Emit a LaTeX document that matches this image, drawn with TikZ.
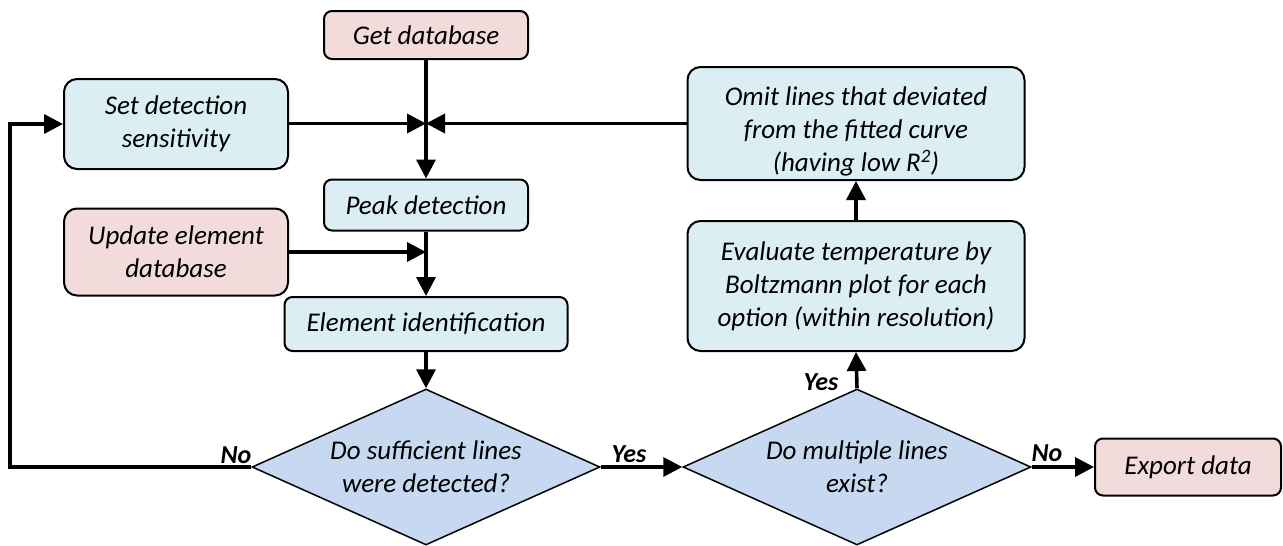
\documentclass[tikz,border=0pt]{standalone}
\usepackage{fontspec}
\setmainfont{Carlito}
\usetikzlibrary{shapes.geometric,arrows.meta}
\definecolor{boxblue}{HTML}{DAEEF3}
\definecolor{boxpink}{HTML}{F2DCDB}
\definecolor{diafill}{HTML}{C6D9F1}
\begin{document}
\begin{tikzpicture}[x=1pt,y=-1pt,
  txt/.style={font=\fontsize{27}{33}\selectfont\itshape},
  bluebox/.style={draw=black,line width=2pt,fill=boxblue,rounded corners=13pt,align=center,inner sep=0pt,txt},
  pinkbox/.style={draw=black,line width=2pt,fill=boxpink,rounded corners=13pt,align=center,inner sep=0pt,txt},
  smallbox/.style={rounded corners=8pt},
  decision/.style={diamond,draw=black,line width=1.5pt,fill=diafill,align=center,inner sep=0pt,minimum width=348pt,minimum height=156pt,aspect=2.23,txt},
  arr/.style={line width=3.6pt,-{Triangle[length=19pt,width=19pt]}},
  lab/.style={font=\fontsize{26}{30}\selectfont\bfseries\itshape}
]
\useasboundingbox (0,0) rectangle (1283,546);

\node[pinkbox,smallbox,minimum width=204pt,minimum height=48pt] (get) at (426,35) {Get database};
\node[bluebox,minimum width=224pt,minimum height=90pt] (set) at (176,124) {Set detection\\sensitivity};
\node[bluebox,smallbox,minimum width=204pt,minimum height=51pt] (peak) at (426,205) {Peak detection};
\node[pinkbox,minimum width=224pt,minimum height=87pt] (upd) at (176,252) {Update element\\database};
\node[bluebox,smallbox,minimum width=283pt,minimum height=54pt] (elem) at (426,324) {Element identification};
\node[decision] (d1) at (426,467) {Do sufficient lines\\were detected?};
\node[decision] (d2) at (857,467) {Do multiple lines\\exist?};
\node[pinkbox,smallbox,minimum width=186pt,minimum height=57pt] (exp) at (1188,467) {Export data};
\node[bluebox,minimum width=337pt,minimum height=130pt] (eval) at (856,286) {Evaluate temperature by\\Boltzmann plot for each\\option (within resolution)};
\node[bluebox,minimum width=337pt,minimum height=113pt] (omit) at (856,123.5) {};
\node[txt,align=center,inner sep=0pt] (omittext) at (856,131) {Omit lines that deviated\\from the fitted curve\\(having low R\textsuperscript{2})};

\coordinate (j1) at (get.south |- omit.west);
\coordinate (j2) at (peak.south |- upd.east);
\coordinate (lp) at (10,467);

\draw[arr] (get.south) -- (peak.north);
\draw[arr] (set.east |- j1) -- (j1);
\draw[arr] (omit.west) -- (j1);
\draw[arr] (peak.south) -- (elem.north);
\draw[arr] (upd.east) -- (j2);
\draw[arr] (elem.south) -- (d1.north);
\draw[arr] (d1.west) -- (lp) |- (set.west);
\draw[arr] (d1.east) -- (d2.west);
\draw[arr] (d2.north) -- (eval.south);
\draw[arr] (eval.north) -- (omit.south);
\draw[arr] (d2.east) -- (exp.west);

\node[lab] (no1) at (236,455) {No};
\node[lab] (yes1) at (629,454) {Yes};
\node[lab] (yes2) at (821,382) {Yes};
\node[lab] (no2) at (1047,453) {No};
\end{tikzpicture}
\end{document}
